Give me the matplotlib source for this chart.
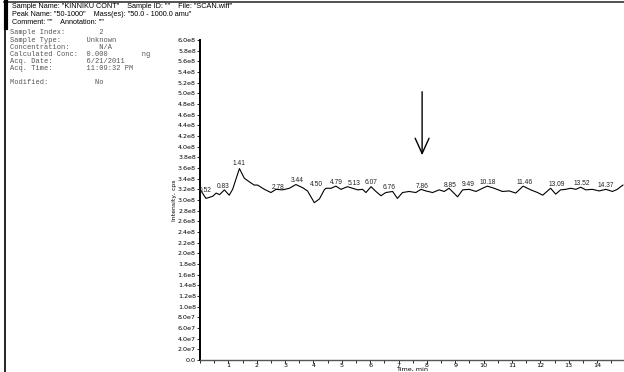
import matplotlib
matplotlib.use("Agg")
import matplotlib.pyplot as plt
import numpy as np
from matplotlib.ticker import FixedLocator, FuncFormatter, MultipleLocator
from matplotlib.lines import Line2D

# ---- data ----
time_min = [0.00, 0.21, 0.45, 0.57, 0.69, 0.86, 1.03, 1.15, 1.39, 1.56, 1.74, 1.91, 2.03,
            2.27, 2.50, 2.68, 2.91, 3.15, 3.38, 3.62, 3.79, 4.03, 4.21, 4.38, 4.44, 4.62,
            4.79, 4.97, 5.20, 5.38, 5.56, 5.73, 5.85, 6.03, 6.20, 6.38, 6.55, 6.79, 6.96,
            7.14, 7.37, 7.61, 7.79, 7.96, 8.20, 8.43, 8.61, 8.78, 9.08, 9.26, 9.49, 9.73,
            9.96, 10.13, 10.37, 10.66, 10.90, 11.13, 11.39, 11.66, 11.90, 12.08, 12.36,
            12.54, 12.71, 12.89, 13.07, 13.25, 13.42, 13.60, 13.83, 14.07, 14.31, 14.54,
            14.71, 14.91]
intensity = [3.20, 3.03, 3.07, 3.13, 3.10, 3.19, 3.09, 3.20, 3.59, 3.41, 3.34, 3.28, 3.28,
             3.20, 3.14, 3.20, 3.19, 3.22, 3.29, 3.23, 3.17, 2.95, 3.02, 3.19, 3.22, 3.22,
             3.26, 3.20, 3.25, 3.22, 3.19, 3.20, 3.14, 3.25, 3.16, 3.08, 3.14, 3.16, 3.03,
             3.14, 3.16, 3.14, 3.20, 3.17, 3.14, 3.19, 3.16, 3.22, 3.06, 3.19, 3.20, 3.16,
             3.22, 3.26, 3.22, 3.16, 3.17, 3.13, 3.26, 3.19, 3.14, 3.09, 3.22, 3.11, 3.19,
             3.20, 3.22, 3.20, 3.24, 3.19, 3.20, 3.17, 3.20, 3.16, 3.20, 3.28]
intensity = [v * 1e8 for v in intensity]

peak_labels = ["0.52", "0.83", "1.41", "2.78", "3.44", "4.50", "4.79", "5.13", "6.07",
               "6.76", "7.86", "8.85", "9.49", "10.18", "11.46", "13.09", "13.52", "14.37"]
label_time = [0.18, 0.80, 1.36, 2.76, 3.42, 4.12, 4.79, 5.44, 6.04,
              6.66, 7.84, 8.82, 9.47, 10.15, 11.44, 12.58, 13.47, 14.30]
label_height = [3.17, 3.25, 3.69, 3.24, 3.36, 3.29, 3.32, 3.31, 3.32,
                3.24, 3.25, 3.28, 3.29, 3.32, 3.32, 3.29, 3.31, 3.28]
label_height = [v * 1e8 for v in label_height]

arrow_time = 7.83
arrow_top, arrow_bottom = 5.03e8, 3.84e8

header_lines = [
    'Sample Name: "KINNIKU CONT"    Sample ID: ""    File: "SCAN.wiff"',
    'Peak Name: "50-1000"    Mass(es): "50.0 - 1000.0 amu"',
    'Comment: ""    Annotation: ""',
]
info_lines = [
    "Sample Index:        2",
    "Sample Type:      Unknown",
    "Concentration:       N/A",
    "Calculated Conc:  0.000        ng",
    "Acq. Date:        6/21/2011",
    "Acq. Time:        11:09:32 PM",
    "",
    "Modified:           No",
]
y_ticks = [i * 2e7 for i in range(31)]
x_ticks = list(range(1, 15))

# ---- figure ----
W, H = 624, 372
fig = plt.figure(figsize=(W / 100, H / 100), dpi=100)

ax = fig.add_axes([200 / W, 1 - 360 / H, (W - 200) / W, 320 / H])
ax.plot(time_min, intensity, color="black", lw=0.8)
ax.set_xlim(0, (W - 199.5) / 28.4)
ax.set_ylim(0, 6.0e8)

for s in ("top", "right"):
    ax.spines[s].set_visible(False)
ax.spines["left"].set_linewidth(1.4)
ax.spines["bottom"].set_linewidth(1.0)
ax.spines["bottom"].set_color("#555555")

def yfmt(v, pos):
    if v == 0:
        return "0.0"
    e = int(np.floor(np.log10(v) + 1e-9))
    return f"{v / 10**e:.1f}e{e}"

ax.yaxis.set_major_locator(FixedLocator(y_ticks))
ax.yaxis.set_major_formatter(FuncFormatter(yfmt))
ax.xaxis.set_major_locator(FixedLocator(x_ticks))
ax.xaxis.set_minor_locator(MultipleLocator(0.5))
ax.tick_params(axis="y", length=2, width=0.6, pad=1, labelsize=4.6, colors="black")
ax.tick_params(axis="x", which="both", length=2, width=0.6, pad=0.0, labelsize=4.6)
ax.set_ylabel("Intensity, cps", fontsize=4.4)
ax.yaxis.set_label_coords(-26 / (W - 200), 0.5)
ax.yaxis.label.set_va("center")
ax.set_xlabel("Time, min", fontsize=4.6)
ax.xaxis.set_label_coords(0.5, -9.5 / 320)
ax.xaxis.label.set_va("center")

for t, h, lab in zip(label_time, label_height, peak_labels):
    ax.text(t, h, lab, fontsize=4.8, ha="center", va="center", color="#222222",
            family="Liberation Sans")

ax.annotate("", xy=(arrow_time, arrow_bottom), xytext=(arrow_time, arrow_top),
            arrowprops=dict(arrowstyle="->,head_length=1.1,head_width=0.5",
                            color="black", lw=1.0, shrinkA=0, shrinkB=0))

# header texts
for i, line in enumerate(header_lines):
    fig.text(12 / W, 1 - (6 + i * 8) / H, line, fontsize=5.2, family="Liberation Sans",
             va="center", ha="left", color="black")
for i, line in enumerate(info_lines):
    fig.text(10 / W, 1 - (33 + i * 7.1) / H, line, fontsize=5.0, family="Liberation Mono",
             va="center", ha="left", color="#555555")

# frame lines
fig.add_artist(Line2D([4 / W, 1], [1 - 2 / H, 1 - 2 / H], color="#333333", lw=1.2,
                      transform=fig.transFigure))
fig.add_artist(Line2D([5 / W, 5 / W], [1 - 2 / H, 0], color="black", lw=1.2,
                      transform=fig.transFigure))
fig.add_artist(Line2D([6 / W, 6 / W], [1 - 2 / H, 1 - 28 / H], color="black", lw=3.0,
                      transform=fig.transFigure))

fig.savefig("out.png", dpi=100)
